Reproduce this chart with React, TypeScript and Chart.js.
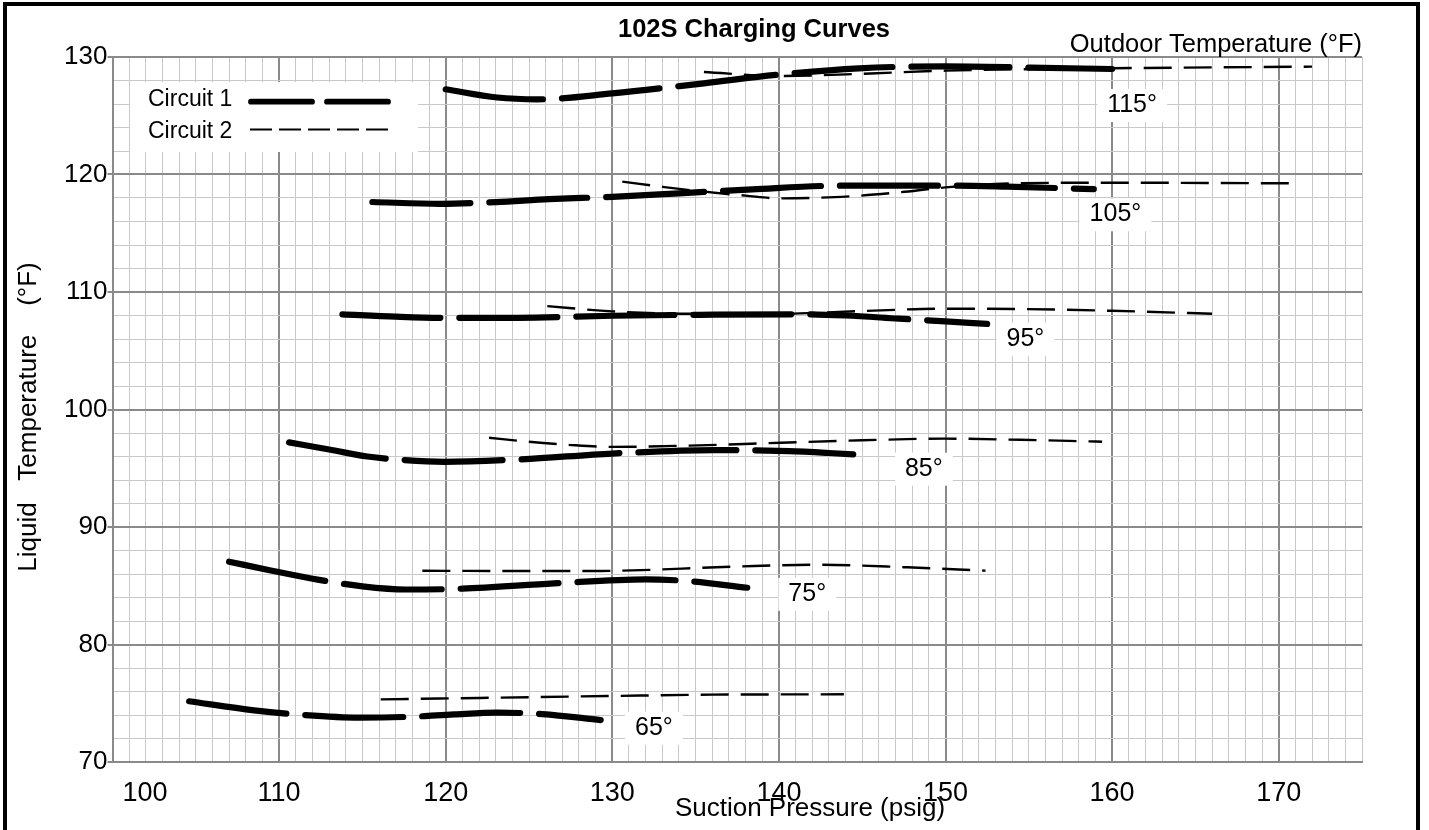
import { useEffect, useRef } from 'react';
import { Chart, registerables } from 'chart.js';

Chart.register(...registerables);

// ---- axes ----
const xMin = 100;
const xMax = 175;
const yMin = 70;
const yMax = 130;
const xTickLabels = [100, 110, 120, 130, 140, 150, 160, 170];
const yTickLabels = [70, 80, 90, 100, 110, 120, 130];

// ---- Circuit 1 (thick long dashes) ----
const c1_65_psig = [104.6, 108.5, 111.5, 114.8, 117.9, 120.5, 123.1, 125.8, 129.3];
const c1_65_temp = [75.17, 74.4, 74.0, 73.78, 73.85, 74.05, 74.2, 74.08, 73.57];

const c1_75_psig = [107.0, 109.5, 112.4, 115.0, 117.6, 121.0, 126.5, 132.0, 134.5, 138.1];
const c1_75_temp = [87.05, 86.3, 85.5, 84.95, 84.68, 84.75, 85.2, 85.55, 85.4, 84.83];

const c1_85_psig = [110.6, 113.0, 115.3, 117.5, 119.9, 124.4, 130.0, 136.1, 140.6, 143.0, 145.5];
const c1_85_temp = [97.2, 96.6, 96.0, 95.7, 95.55, 95.75, 96.25, 96.55, 96.45, 96.3, 96.1];

const c1_95_psig = [113.8, 117.0, 119.9, 124.3, 130.0, 136.1, 141.4, 144.0, 147.2, 150.0, 152.5];
const c1_95_temp = [108.1, 107.9, 107.8, 107.8, 107.98, 108.07, 108.1, 108.0, 107.73, 107.5, 107.28];

const c1_105_psig = [115.6, 119.7, 123.0, 126.2, 130.0, 134.0, 138.4, 143.75, 150.0, 153.7, 158.9];
const c1_105_temp = [117.66, 117.5, 117.65, 117.9, 118.1, 118.4, 118.74, 119.05, 119.05, 118.96, 118.75];

const c1_115_psig = [120.0, 123.1, 125.5, 130.0, 135.5, 140.0, 144.8, 150.0, 155.1, 160.0];
const c1_115_temp = [127.25, 126.55, 126.4, 126.9, 127.76, 128.5, 129.04, 129.2, 129.1, 128.98];

// ---- Circuit 2 (thin short dashes) ----
const c2_65_psig = [116.1, 122.0, 130.0, 136.0, 143.9];
const c2_65_temp = [75.33, 75.45, 75.62, 75.73, 75.76];

const c2_75_psig = [118.6, 124.0, 129.3, 137.2, 142.4, 147.7, 152.4];
const c2_75_temp = [86.28, 86.25, 86.26, 86.62, 86.79, 86.57, 86.28];

const c2_85_psig = [122.6, 125.0, 127.3, 130.0, 135.2, 140.1, 145.0, 149.9, 154.5, 159.4];
const c2_85_temp = [97.6, 97.25, 97.0, 96.82, 96.95, 97.17, 97.38, 97.52, 97.42, 97.26];

const c2_95_psig = [126.1, 130.0, 135.0, 140.0, 145.0, 149.9, 154.5, 160.0, 166.0];
const c2_95_temp = [108.8, 108.35, 108.15, 108.15, 108.38, 108.58, 108.55, 108.4, 108.15];

const c2_105_psig = [130.6, 133.0, 135.5, 138.0, 140.0, 143.75, 147.0, 150.0, 154.1, 160.0, 171.0];
const c2_105_temp = [119.39, 118.95, 118.54, 118.2, 117.97, 118.1, 118.45, 118.9, 119.25, 119.3, 119.25];

const c2_115_psig = [135.5, 140.0, 145.5, 150.0, 160.0, 172.0];
const c2_115_temp = [128.72, 128.38, 128.6, 128.84, 129.04, 129.18];

// ---- outdoor temperature curve labels (anchored in data units) ----
const outdoorLabels = ['65°', '75°', '85°', '95°', '105°', '115°'];
const outdoorLabelPsig = [132.5, 141.7, 148.7, 154.8, 160.2, 161.2];
const outdoorLabelTemp = [73.0, 84.4, 95.05, 106.1, 116.7, 126.0];

const legendLabels = ['Circuit 1', 'Circuit 2'];

const FONT = "'Liberation Sans', Arial, Helvetica, sans-serif";
const MAJOR = '#8a8a8a';
const MINOR = '#c9c9c9';

const pts = (p: number[], t: number[]) => p.map((v, i) => ({ x: v, y: t[i] }));

const c1Style = {
  borderColor: '#000',
  borderWidth: 6.2,
  borderDash: [98, 19],
  borderCapStyle: 'round' as const,
  pointRadius: 0,
  cubicInterpolationMode: 'monotone' as const,
  fill: false,
};
const c2Style = {
  borderColor: '#000',
  borderWidth: 2.4,
  borderDash: [28, 12],
  borderCapStyle: 'butt' as const,
  pointRadius: 0,
  cubicInterpolationMode: 'monotone' as const,
  fill: false,
};

const decorPlugin = {
  id: 'decor',
  beforeDatasetsDraw(chart: any) {
    const { ctx, scales } = chart;
    const xs = scales.x;
    const ys = scales.y;
    ctx.save();
    // legend box
    ctx.fillStyle = '#fff';
    ctx.fillRect(130, 82, 288, 70);
    ctx.fillStyle = '#000';
    ctx.font = `23px ${FONT}`;
    ctx.textAlign = 'left';
    ctx.textBaseline = 'alphabetic';
    ctx.fillText(legendLabels[0], 148, 106);
    ctx.fillText(legendLabels[1], 148, 138);
    ctx.strokeStyle = '#000';
    ctx.lineWidth = 5.8;
    ctx.lineCap = 'round';
    ctx.setLineDash([61, 15]);
    ctx.beginPath();
    ctx.moveTo(251, 101.7);
    ctx.lineTo(388, 101.7);
    ctx.stroke();
    ctx.lineWidth = 2;
    ctx.lineCap = 'butt';
    ctx.setLineDash([22, 7]);
    ctx.beginPath();
    ctx.moveTo(250, 129.5);
    ctx.lineTo(388, 129.5);
    ctx.stroke();
    ctx.setLineDash([]);

    // outdoor temperature labels with white boxes
    ctx.font = `25px ${FONT}`;
    ctx.textAlign = 'center';
    ctx.textBaseline = 'middle';
    outdoorLabels.forEach((lab, i) => {
      const cx = xs.getPixelForValue(outdoorLabelPsig[i]);
      const cy = ys.getPixelForValue(outdoorLabelTemp[i]);
      const w = ctx.measureText(lab).width;
      ctx.fillStyle = '#fff';
      ctx.fillRect(cx - w / 2 - 10, cy - 15, w + 20, 33);
      ctx.fillStyle = '#000';
      ctx.fillText(lab, cx, cy + 1);
    });
    ctx.restore();
  },
  afterDraw(chart: any) {
    const { ctx, scales, chartArea } = chart;
    const xs = scales.x;
    ctx.save();
    ctx.fillStyle = '#000';
    // title
    ctx.font = `bold 25.5px ${FONT}`;
    ctx.textAlign = 'center';
    ctx.textBaseline = 'alphabetic';
    ctx.fillText('102S Charging Curves', 754, 37);
    // outdoor temperature caption
    ctx.font = `25.5px ${FONT}`;
    ctx.textAlign = 'right';
    ctx.fillText('Outdoor Temperature (°F)', chartArea.right, 52);
    // x tick labels
    ctx.font = `27px ${FONT}`;
    xTickLabels.forEach((v) => {
      const px = xs.getPixelForValue(v);
      if (v === xMin) {
        ctx.textAlign = 'left';
        ctx.fillText(String(v), px + 10, 801);
      } else {
        ctx.textAlign = 'center';
        ctx.fillText(String(v), px, 801);
      }
    });
    // x axis title
    ctx.font = `26px ${FONT}`;
    ctx.textAlign = 'center';
    ctx.fillText('Suction Pressure (psig)', 810, 816);
    // y axis title
    ctx.translate(29, 417);
    ctx.rotate(-Math.PI / 2);
    ctx.font = `26px ${FONT}`;
    ctx.textBaseline = 'middle';
    ctx.fillText('Liquid   Temperature    (°F)', 0, 0);
    ctx.restore();
  },
};

export default function App() {
  const ref = useRef<HTMLCanvasElement>(null);
  useEffect(() => {
    const isMajor = (c: any) => c.tick && Math.abs(c.tick.value % 10) < 1e-6;
    const chart = new Chart(ref.current as HTMLCanvasElement, {
      type: 'line',
      data: {
        datasets: [
          { ...c1Style, label: 'Circuit 1 65', data: pts(c1_65_psig, c1_65_temp) },
          { ...c1Style, label: 'Circuit 1 75', data: pts(c1_75_psig, c1_75_temp) },
          { ...c1Style, label: 'Circuit 1 85', data: pts(c1_85_psig, c1_85_temp) },
          { ...c1Style, label: 'Circuit 1 95', data: pts(c1_95_psig, c1_95_temp) },
          { ...c1Style, label: 'Circuit 1 105', data: pts(c1_105_psig, c1_105_temp) },
          { ...c1Style, label: 'Circuit 1 115', data: pts(c1_115_psig, c1_115_temp) },
          { ...c2Style, label: 'Circuit 2 65', data: pts(c2_65_psig, c2_65_temp) },
          { ...c2Style, label: 'Circuit 2 75', data: pts(c2_75_psig, c2_75_temp) },
          { ...c2Style, label: 'Circuit 2 85', data: pts(c2_85_psig, c2_85_temp) },
          { ...c2Style, label: 'Circuit 2 95', data: pts(c2_95_psig, c2_95_temp) },
          { ...c2Style, label: 'Circuit 2 105', data: pts(c2_105_psig, c2_105_temp) },
          { ...c2Style, label: 'Circuit 2 115', data: pts(c2_115_psig, c2_115_temp) },
        ] as any,
      },
      options: {
        responsive: false,
        animation: false,
        devicePixelRatio: 1,
        layout: { padding: { left: 0, top: 57, right: 67, bottom: 0 } },
        plugins: {
          legend: { display: false },
          title: { display: false },
          tooltip: { enabled: false },
        },
        scales: {
          x: {
            type: 'linear',
            min: xMin,
            max: xMax,
            ticks: { stepSize: 1, display: false, autoSkip: false },
            grid: {
              color: (c: any) => (isMajor(c) ? MAJOR : MINOR),
              lineWidth: (c: any) => (isMajor(c) ? 2 : 1),
              drawTicks: false,
            },
            border: { display: true, color: MAJOR, width: 2 },
            afterFit: (s: any) => {
              s.height = 68;
            },
          },
          y: {
            type: 'linear',
            min: yMin,
            max: yMax,
            ticks: {
              stepSize: 2,
              autoSkip: false,
              padding: 0,
              color: '#000',
              font: { family: FONT, size: 26 },
              callback: (v: any) => (yTickLabels.includes(Number(v)) ? String(v) : ''),
            },
            grid: {
              color: (c: any) => (isMajor(c) ? MAJOR : MINOR),
              lineWidth: (c: any) => (isMajor(c) ? 2 : 1),
              drawTicks: true,
              tickLength: 5,
              tickColor: (c: any) => (isMajor(c) ? MAJOR : 'rgba(0,0,0,0)'),
            },
            border: { display: true, color: MAJOR, width: 2 },
            afterFit: (s: any) => {
              s.width = 112.5;
            },
          },
        },
      } as any,
      plugins: [decorPlugin],
    });
    return () => chart.destroy();
  }, []);

  return (
    <div
      style={{
        position: 'fixed',
        left: 0,
        top: 0,
        width: 1429,
        height: 830,
        background: '#fff',
        overflow: 'hidden',
      }}
    >
      <canvas
        ref={ref}
        width={1429}
        height={830}
        style={{ position: 'absolute', left: 0, top: 0, width: 1429, height: 830 }}
      />
      <div
        style={{
          position: 'absolute',
          left: 3,
          top: 2,
          width: 1417,
          height: 900,
          border: '4px solid #000',
          borderBottom: 'none',
          boxSizing: 'border-box',
          pointerEvents: 'none',
        }}
      />
    </div>
  );
}
